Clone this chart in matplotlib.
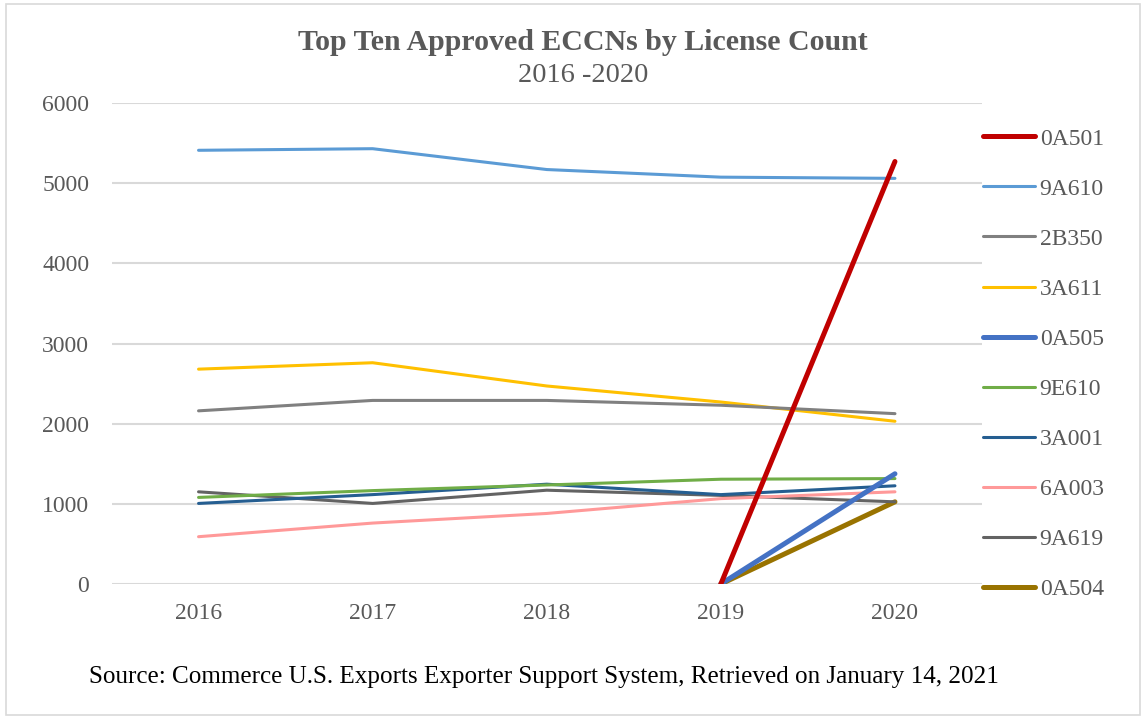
import matplotlib
matplotlib.use("Agg")
import matplotlib.pyplot as plt
import numpy as np
from matplotlib.patches import Rectangle

years = ["2016", "2017", "2018", "2019", "2020"]
nan = np.nan
series_names = ["0A501", "9A610", "2B350", "3A611", "0A505",
                "9E610", "3A001", "6A003", "9A619", "0A504"]
v_0A501 = [nan, nan, nan, 0, 5270]
v_9A610 = [5410, 5430, 5170, 5075, 5060]
v_2B350 = [2160, 2290, 2290, 2230, 2125]
v_3A611 = [2680, 2760, 2470, 2270, 2030]
v_0A505 = [nan, nan, nan, 0, 1375]
v_9E610 = [1080, 1165, 1235, 1307, 1315]
v_3A001 = [1005, 1115, 1245, 1115, 1225]
v_6A003 = [590, 760, 880, 1065, 1150]
v_9A619 = [1150, 1005, 1170, 1105, 1025]
v_0A504 = [nan, nan, nan, 0, 1025]
values = [v_0A501, v_9A610, v_2B350, v_3A611, v_0A505,
          v_9E610, v_3A001, v_6A003, v_9A619, v_0A504]

colors = ["#C00000", "#5B9BD5", "#808080", "#FFC000", "#4472C4",
          "#70AD47", "#255E91", "#FF9999", "#636363", "#997300"]
widths = [3.6, 2.2, 2.2, 2.2, 3.6, 2.2, 2.2, 2.2, 2.2, 3.6]

plt.rcParams['font.family'] = ['Liberation Serif', 'DejaVu Serif']
txt = "#595959"

fig = plt.figure(figsize=(11.46, 7.19), dpi=100)
W, H = 1146, 719
ax = fig.add_axes([111.5 / W, 1 - 584 / H, (982 - 111.5) / W, (584 - 103) / H])

x = np.arange(len(years))
# draw in reverse so the first series is on top
for name, vals, c, lw in reversed(list(zip(series_names, values, colors, widths))):
    ax.plot(x, vals, color=c, lw=lw, label=name, solid_capstyle='round',
            solid_joinstyle='round')

ax.set_xlim(-0.5, len(years) - 0.5)
ax.set_ylim(0, 6000)
ax.set_yticks(np.arange(0, 6001, 1000))
ax.set_xticks(x)
ax.set_xticklabels(years)
ax.grid(axis='y', color='#D9D9D9', lw=1.5)
ax.set_axisbelow(True)
for s in ax.spines.values():
    s.set_visible(False)
ax.tick_params(axis='both', length=0, labelsize=17, colors=txt)
ax.tick_params(axis='y', pad=16)
ax.tick_params(axis='x', pad=14)

handles, labels = ax.get_legend_handles_labels()
handles = handles[::-1]
labels = labels[::-1]
leg = fig.legend(handles, labels, loc='upper left',
                 bbox_to_anchor=(983 / W, 1 - 128 / H),
                 frameon=False, fontsize=17, labelspacing=1.21,
                 handlelength=2.2, handletextpad=0.2, borderpad=0,
                 borderaxespad=0)
for t in leg.get_texts():
    t.set_color(txt)

fig.text(583 / W, 1 - 43 / H, "Top Ten Approved ECCNs by License Count",
         ha='center', va='center', fontsize=21.5, fontweight='bold', color=txt)
fig.text(583 / W, 1 - 76 / H, "2016 -2020", ha='center', va='center',
         fontsize=20.5, color=txt)
fig.text(544 / W, 1 - 677 / H,
         "Source: Commerce U.S. Exports Exporter Support System, Retrieved on January 14, 2021",
         ha='center', va='center', fontsize=18.1, color='#000000')

fig.patches.append(Rectangle((6 / W, 4 / H), (1140 - 6) / W, (715 - 4) / H,
                             transform=fig.transFigure, fill=False,
                             edgecolor='#D9D9D9', lw=1.2))

fig.savefig("out.png", dpi=100)
